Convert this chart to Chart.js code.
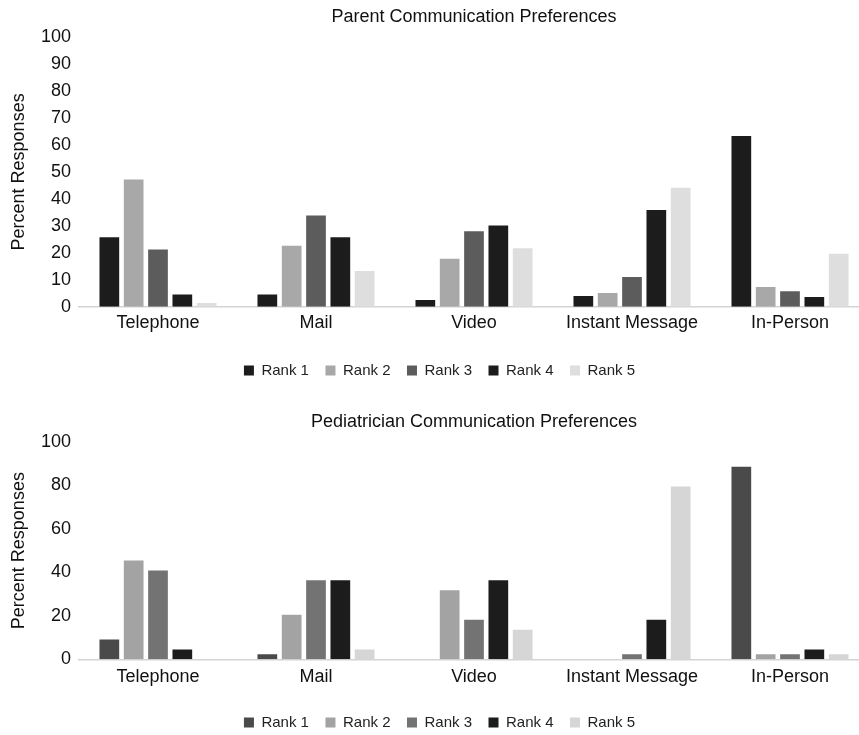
<!DOCTYPE html>
<html>
<head>
<meta charset="utf-8">
<title>Communication Preferences</title>
<script src="https://cdn.jsdelivr.net/npm/chart.js@4.4.1/dist/chart.umd.min.js"></script>
<style>
  html, body { margin: 0; padding: 0; background: #fff; overflow: hidden; width: 859px; height: 735px; }
  #wrap { position: relative; width: 859px; height: 735px; overflow: hidden; }
  canvas { position: absolute; left: 0; }
  #parentChart { top: 0; }
  #pedChart { top: 390px; }
</style>
</head>
<body>
<div id="wrap">
  <canvas id="parentChart" width="869" height="390"></canvas>
  <canvas id="pedChart" width="869" height="350"></canvas>
</div>
<script>
// Communication channels (x categories)
const categories = ['Telephone', 'Mail', 'Video', 'Instant Message', 'In-Person'];
const rankNames = ['Rank 1', 'Rank 2', 'Rank 3', 'Rank 4', 'Rank 5'];

// Parent survey: percent of responses per rank
const parentRank1 = [25.8, 4.6, 2.5, 4.0, 63.3];
const parentRank2 = [47.2, 22.6, 17.8, 5.1, 7.3];
const parentRank3 = [21.2, 33.8, 28.0, 11.0, 5.8];
const parentRank4 = [4.6, 25.8, 30.1, 35.9, 3.6];
const parentRank5 = [1.4, 13.3, 21.7, 44.1, 19.7];

// Pediatrician survey: percent of responses per rank
const pedRank1 = [9.1, 2.3, 0, 0, 88.6];
const pedRank2 = [45.5, 20.5, 31.8, 0, 2.3];
const pedRank3 = [40.9, 36.4, 18.2, 2.3, 2.3];
const pedRank4 = [4.5, 36.4, 36.4, 18.2, 4.5];
const pedRank5 = [0, 4.5, 13.6, 79.5, 2.3];

const parentColors = ['#1c1c1c', '#a8a8a8', '#5c5c5c', '#1c1c1c', '#dedede'];
const pedColors = ['#4a4a4a', '#a3a3a3', '#737373', '#1c1c1c', '#d6d6d6'];

const FONT = '"Liberation Sans", Arial, Helvetica, sans-serif';
const TEXT = '#111111';

function makeDatasets(series, colors) {
  return series.map((values, i) => ({
    label: rankNames[i],
    data: values,
    backgroundColor: colors[i],
    borderWidth: 0,
    categoryPercentage: 0.77,
    barPercentage: 0.81
  }));
}

function buildChart(canvasId, titleText, series, colors, step, geo) {
  return new Chart(document.getElementById(canvasId), {
    type: 'bar',
    data: { labels: categories, datasets: makeDatasets(series, colors) },
    options: {
      responsive: false,
      animation: false,
      devicePixelRatio: 1,
      layout: { padding: { left: 10, right: 0, top: 0, bottom: geo.padBottom } },
      plugins: {
        title: {
          display: true,
          text: titleText,
          fullSize: false,
          color: TEXT,
          font: { family: FONT, size: 18, weight: 'normal' },
          padding: { top: geo.titleTop, bottom: geo.titleBottom }
        },
        legend: {
          position: 'bottom',
          labels: {
            color: '#222',
            font: { family: FONT, size: 15 },
            boxWidth: 10,
            boxHeight: 10,
            padding: 16.5
          }
        },
        tooltip: { enabled: false }
      },
      scales: {
        x: {
          grid: { display: false, drawTicks: false },
          border: { display: true, color: '#d4d4d4', width: 1.5 },
          ticks: { color: TEXT, font: { family: FONT, size: 18 }, padding: geo.xPad, maxRotation: 0 },
          afterFit: (axis) => { axis.height = geo.xHeight; }
        },
        y: {
          min: 0,
          max: 100,
          grid: { display: false, drawTicks: false },
          border: { display: false },
          ticks: { stepSize: step, color: TEXT, font: { family: FONT, size: 18 }, padding: 8 },
          title: {
            display: true,
            text: 'Percent Responses',
            color: TEXT,
            font: { family: FONT, size: 18, lineHeight: 1 },
            padding: { top: 0, bottom: 0 }
          },
          afterFit: (axis) => { axis.width = 69; }
        }
      }
    }
  });
}

buildChart('parentChart', 'Parent Communication Preferences',
  [parentRank1, parentRank2, parentRank3, parentRank4, parentRank5], parentColors, 10,
  { titleTop: 6, titleBottom: 9.4, xPad: 5, xHeight: 39.7, padBottom: 2 });

buildChart('pedChart', 'Pediatrician Communication Preferences',
  [pedRank1, pedRank2, pedRank3, pedRank4, pedRank5], pedColors, 20,
  { titleTop: 21, titleBottom: 9.4, xPad: 7, xHeight: 39.2, padBottom: 0 });
</script>
</body>
</html>
